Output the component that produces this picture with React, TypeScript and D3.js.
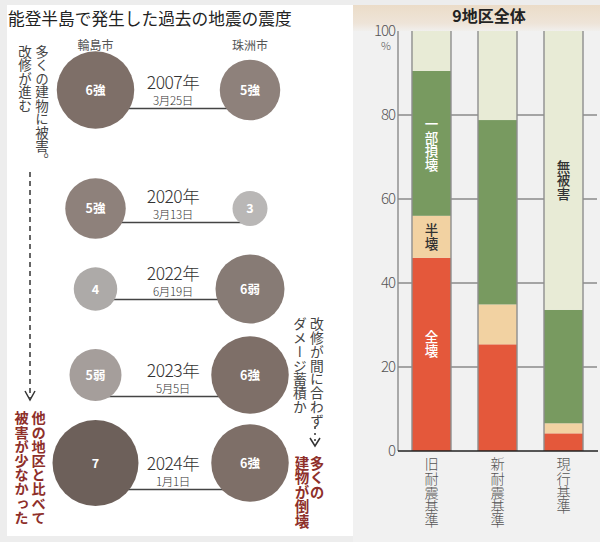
import React from 'react';
import * as d3 from 'd3';

const W = 600;
const H = 542;

// ---- left panel data ----
const quakeYears = ['2007年', '2020年', '2022年', '2023年', '2024年'];
const quakeDates = ['3月25日', '3月13日', '6月19日', '5月5日', '1月1日'];
const cities = ['輪島市', '珠洲市'];
const wajimaIntensity = ['6強', '5強', '4', '5弱', '7'];
const suzuIntensity = ['5強', '3', '6弱', '6強', '6強'];
const intensityLevels = ['3', '4', '5弱', '5強', '6弱', '6強', '7'];
const intensityColors = ['#b9b7b6', '#adaaa8', '#a59e9b', '#8e817b', '#877b75', '#7e6f68', '#6d605a'];

// ---- right panel data ----
const standards = ['旧耐震基準', '新耐震基準', '現行基準'];
const damageKeys = ['全壊', '半壊', '一部損壊', '無被害'];
const totalCollapse = [46, 25.4, 4.2];
const halfCollapse = [10, 9.5, 2.4];
const partialDamage = [34.5, 43.9, 27];
const noDamage = [9.5, 21.2, 66.4];
const damageColors = ['#e4583b', '#f2d2a2', '#789a60', '#e8ebd6'];
const yTicks = [0, 20, 40, 60, 80, 100];
const segLabels = [
  { text: '一部損壊', bar: 0, at: 73, color: '#ffffff' },
  { text: '半壊', bar: 0, at: 51, color: '#333333' },
  { text: '全壊', bar: 0, at: 25.5, color: '#ffffff' },
  { text: '無被害', bar: 2, at: 64.5, color: '#333333' },
];

// layout
const circleRowY = [90, 208.5, 289, 375, 463];
const textRowY = [89, 203, 280, 377, 470];

const JP = '"Noto Sans CJK JP", "Noto Sans", sans-serif';

function VText({ x, y, text, size, color, weight = 400, spacing = 0 }: any) {
  return (
    <text
      x={x}
      y={y}
      fill={color}
      fontSize={size}
      fontWeight={weight}
      fontFamily={JP}
      style={{ writingMode: 'vertical-rl', letterSpacing: spacing } as any}
    >
      {text}
    </text>
  );
}

export default function App() {
  // left scales
  const xCity = d3.scalePoint<string>().domain(cities).range([95.5, 250]);
  const rScale = d3.scaleLinear().domain([0, intensityLevels.length - 1]).range([17.5, 43]);
  const cScale = d3.scaleOrdinal<string, string>().domain(intensityLevels).range(intensityColors);
  const rOf = (lv: string) => rScale(intensityLevels.indexOf(lv));

  // right scales
  const y = d3.scaleLinear().domain([0, 100]).range([451, 31]);
  const x = d3.scaleBand<string>().domain(standards).range([398, 597]).paddingInner(0.409).paddingOuter(0.212);
  const rows = standards.map((s, i) => ({
    std: s,
    全壊: totalCollapse[i],
    半壊: halfCollapse[i],
    一部損壊: partialDamage[i],
    無被害: noDamage[i],
  }));
  const stacked = d3.stack<any>().keys(damageKeys)(rows);

  const chartRight = 597;
  const bw = x.bandwidth();

  return (
    <svg
      width={W}
      height={H}
      viewBox={`0 0 ${W} ${H}`}
      style={{ position: 'absolute', left: 0, top: 0, display: 'block' }}
    >
      <defs>
        <linearGradient id="band" x1="0" y1="0" x2="0" y2="1">
          <stop offset="0" stopColor="#ebdcc8" />
          <stop offset="0.7" stopColor="#eee4d8" />
          <stop offset="1" stopColor="#f1efed" />
        </linearGradient>
      </defs>
      {/* backgrounds */}
      <rect x={0} y={0} width={W} height={H} fill="#ededed" />
      <rect x={7} y={5} width={346} height={531} fill="#ffffff" />
      <rect x={353} y={5} width={247} height={537} fill="#f1f1f1" />
      <rect x={353} y={5} width={247} height={26} fill="url(#band)" />

      {/* ---------- LEFT PANEL ---------- */}
      <text x={8} y={25} fontSize={16.7} fontFamily={JP} fill="#222" fontWeight={400}>
        能登半島で発生した過去の地震の震度
      </text>
      {cities.map((c) => (
        <text key={c} x={xCity(c)} y={50} textAnchor="middle" fontSize={12} fontFamily={JP} fill="#555">
          {c}
        </text>
      ))}

      {quakeYears.map((yr, i) => {
        const cy = circleRowY[i];
        const ty = textRowY[i];
        const w = wajimaIntensity[i];
        const s = suzuIntensity[i];
        const midX = 173;
        return (
          <g key={yr}>
            <line x1={xCity('輪島市')} x2={xCity('珠洲市')} y1={ty + 19.5} y2={ty + 19.5} stroke="#444" strokeWidth={1.3} />
            <text x={midX} y={ty} textAnchor="middle" fontSize={17.5} fontFamily={JP} fontWeight={300} fill="#333" letterSpacing={-0.5}>
              {yr}
            </text>
            <text x={midX} y={ty + 15.5} textAnchor="middle" fontSize={11.5} fontFamily={JP} fontWeight={300} fill="#333" letterSpacing={-0.3}>
              {quakeDates[i]}
            </text>
            <circle cx={xCity('輪島市')} cy={cy} r={rOf(w)} fill={cScale(w)} />
            <text x={xCity('輪島市')} y={cy + 4.5} textAnchor="middle" fontSize={12.5} fontWeight={700} fontFamily={JP} fill="#fff">
              {w}
            </text>
            <circle cx={xCity('珠洲市')} cy={cy} r={rOf(s)} fill={cScale(s)} />
            <text x={xCity('珠洲市')} y={cy + 4.5} textAnchor="middle" fontSize={12.5} fontWeight={700} fontFamily={JP} fill="#fff">
              {s}
            </text>
          </g>
        );
      })}

      {/* left annotations */}
      <VText x={42} y={45} text="多くの建物に被害。" size={13.5} color="#444" />
      <VText x={25} y={45} text="改修が進む" size={13.5} color="#444" />
      <line x1={30} x2={30} y1={172} y2={398} stroke="#333" strokeWidth={1.5} strokeDasharray="5 4" />
      <polyline points="25,391 30,400 35,391" fill="none" stroke="#333" strokeWidth={1.5} />
      <VText x={38.5} y={411} text="他の地区と比べて" size={14.2} color="#8e2f2a" weight={700} />
      <VText x={21.5} y={411} text="被害が少なかった" size={14.2} color="#8e2f2a" weight={700} />

      {/* right annotations */}
      <VText x={317} y={317} text="改修が間に合わず" size={13.8} color="#444" />
      <VText x={300} y={317} text="ダメージ蓄積か" size={13.8} color="#444" />
      <line x1={315} x2={315} y1={427} y2={444} stroke="#333" strokeWidth={1.5} strokeDasharray="2 4" />
      <polyline points="310,438 315,446 320,438" fill="none" stroke="#333" strokeWidth={1.5} />
      <VText x={317} y={456} text="多くの" size={14.5} color="#8e2f2a" weight={700} />
      <VText x={302} y={456} text="建物が倒壊" size={14.5} color="#8e2f2a" weight={700} />

      {/* ---------- RIGHT PANEL ---------- */}
      <text x={489} y={22} textAnchor="middle" fontSize={16} fontWeight={700} fontFamily={JP} fill="#222">
        9地区全体
      </text>

      {/* horizontal gridlines */}
      {yTicks.filter((t) => t > 0 && t < 100).map((t) => (
        <line key={t} x1={398} x2={chartRight} y1={y(t)} y2={y(t)} stroke="#8a8a8a" strokeWidth={1.4} />
      ))}
      {/* bars */}
      {stacked.map((layer, li) => (
        <g key={layer.key}>
          {layer.map((d: any, bi: number) => (
            <rect
              key={bi}
              x={x(standards[bi])}
              y={y(d[1])}
              width={bw}
              height={y(d[0]) - y(d[1])}
              fill={damageColors[li]}
            />
          ))}
        </g>
      ))}
      {/* vertical lines at bar edges */}
      {standards.map((s) => (
        <g key={s}>
          <line x1={x(s)!} x2={x(s)!} y1={y(100)} y2={y(0)} stroke="#8e8e8e" strokeWidth={1.4} />
          <line x1={x(s)! + bw} x2={x(s)! + bw} y1={y(100)} y2={y(0)} stroke="#8e8e8e" strokeWidth={1.4} />
        </g>
      ))}
      {/* y axis */}
      <line x1={398} x2={398} y1={y(100)} y2={y(0)} stroke="#8a8a8a" strokeWidth={1.4} />
      <line x1={398} x2={chartRight + 1} y1={y(0)} y2={y(0)} stroke="#222" strokeWidth={1.5} />
      {yTicks.map((t) => (
        <text key={t} x={395} y={y(t) + 5} textAnchor="end" fontSize={15} fontFamily={JP} fontWeight={300} fill="#555" letterSpacing={-1}>
          {t}
        </text>
      ))}
      <text x={386} y={50} textAnchor="middle" fontSize={11} fontFamily={JP} fontWeight={300} fill="#555">
        %
      </text>

      {/* segment labels */}
      {segLabels.map((l) => {
        const n = l.text.length;
        const size = 13.5;
        return (
          <VText
            key={l.text}
            x={x(standards[l.bar])! + bw / 2}
            y={y(l.at) - (n * size) / 2}
            text={l.text}
            size={size}
            color={l.color}
            weight={500}
          />
        );
      })}

      {/* x labels */}
      {standards.map((s) => (
        <VText key={s} x={x(s)! + bw / 2} y={457} text={s} size={14.2} color="#555" weight={300} />
      ))}
    </svg>
  );
}
